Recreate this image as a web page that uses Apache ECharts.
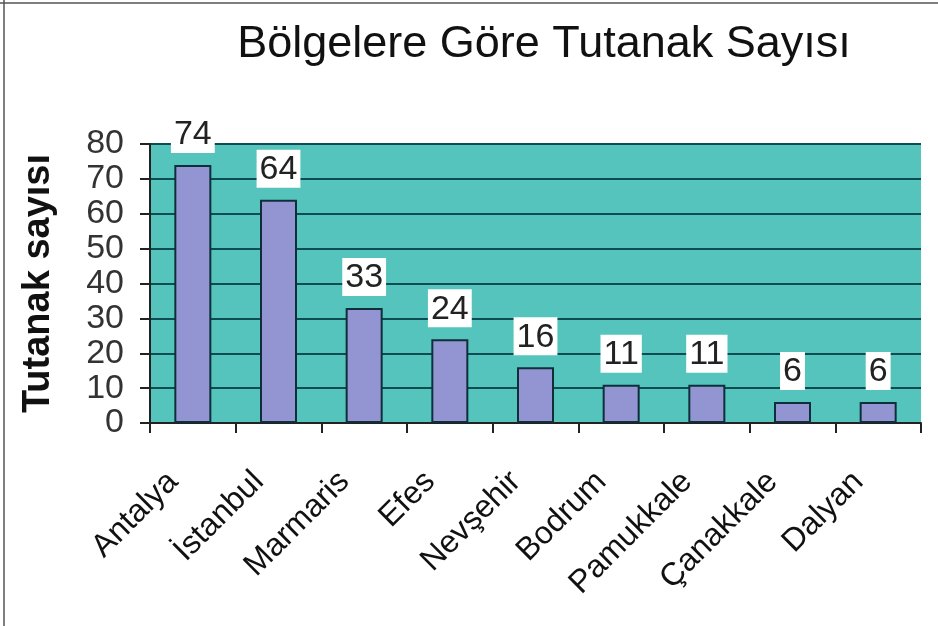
<!DOCTYPE html>
<html><head><meta charset="utf-8">
<script src="https://cdn.jsdelivr.net/npm/echarts@6/dist/echarts.min.js"></script>
<style>html,body{margin:0;padding:0;background:#fff}#c{width:938px;height:626px}</style>
</head><body><div id="c"></div>
<script>
const categories = ['Antalya','İstanbul','Marmaris','Efes','Nevşehir','Bodrum','Pamukkale','Çanakkale','Dalyan'];
const values = [74,64,33,24,16,11,11,6,6];
const yTicks = [0,10,20,30,40,50,60,70,80];
const titleText = 'Bölgelere Göre Tutanak Sayısı';
const yName = 'Tutanak sayısı';

const chart = echarts.init(document.getElementById('c'));
chart.setOption({
  animation:false,
  backgroundColor:'#fff',
  title:{text:titleText,left:539,top:17,textAlign:'center',
    textStyle:{fontFamily:'Liberation Sans',fontSize:45,fontWeight:'normal',color:'#111'}},
  grid:{left:150,right:17,top:144,bottom:203,show:true,backgroundColor:'#55c4bd',borderWidth:0},
  xAxis:{type:'category',data:categories,
    axisLine:{lineStyle:{color:'#222',width:2}},
    axisTick:{show:true,length:10,lineStyle:{color:'#222',width:2}},
    axisLabel:{rotate:45,fontFamily:'Liberation Sans',fontSize:32,color:'#111',margin:34,interval:0,
      padding:[0,28,0,0]}},
  yAxis:{type:'value',min:0,max:80,interval:10,
    name:yName,nameLocation:'middle',nameGap:92,
    nameTextStyle:{fontFamily:'Liberation Sans',fontSize:38,fontWeight:'bold',color:'#111'},
    axisLine:{show:true,lineStyle:{color:'#222',width:2}},
    axisTick:{show:true,length:10,lineStyle:{color:'#222',width:2}},
    axisLabel:{fontFamily:'Liberation Sans',fontSize:34,color:'#333',margin:26,
      formatter:v=>yTicks.includes(v)?String(v):''},
    splitLine:{lineStyle:{color:'#0d4d52',width:2}}},
  series:[{type:'bar',data:values,barWidth:37,
    itemStyle:{color:'#9395d2',borderColor:'#0e2f3a',borderWidth:2},
    label:{show:true,position:'top',distance:12,fontFamily:'Liberation Sans',fontSize:34,color:'#222',
      backgroundColor:'#fff',padding:[3,3,1,3]},
    z:3}],
  graphic:[
    {type:'line',shape:{x1:4,y1:0,x2:4,y2:626},style:{stroke:'#555',lineWidth:1.5}},
    {type:'line',shape:{x1:0,y1:3,x2:938,y2:3},style:{stroke:'#555',lineWidth:1.5}}
  ]
});
</script></body></html>
